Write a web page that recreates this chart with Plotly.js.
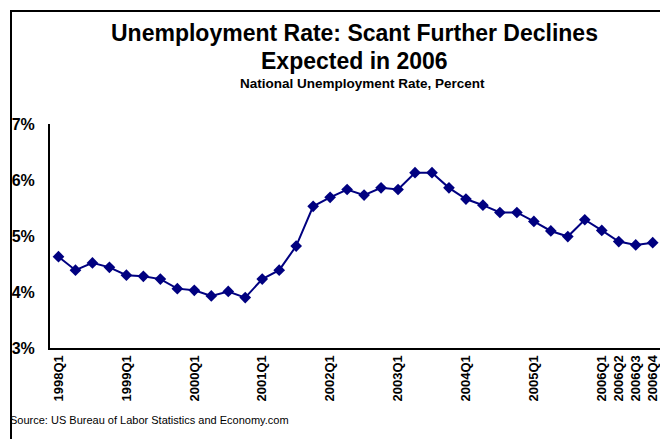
<!DOCTYPE html>
<html>
<head>
<meta charset="utf-8">
<script src="https://cdn.plot.ly/plotly-3.0.1.min.js"></script>
<style>html,body{margin:0;padding:0;background:#fff;}#chart{width:660px;height:439px;}</style>
</head>
<body>
<div id="chart"></div>
<script>
const quarters = [
  "1998Q1","1998Q2","1998Q3","1998Q4",
  "1999Q1","1999Q2","1999Q3","1999Q4",
  "2000Q1","2000Q2","2000Q3","2000Q4",
  "2001Q1","2001Q2","2001Q3","2001Q4",
  "2002Q1","2002Q2","2002Q3","2002Q4",
  "2003Q1","2003Q2","2003Q3","2003Q4",
  "2004Q1","2004Q2","2004Q3","2004Q4",
  "2005Q1","2005Q2","2005Q3","2005Q4",
  "2006Q1","2006Q2","2006Q3","2006Q4"
];
const unemploymentRate = [
  4.63, 4.39, 4.52, 4.44,
  4.30, 4.28, 4.23, 4.06,
  4.03, 3.93, 4.01, 3.90,
  4.23, 4.39, 4.82, 5.53,
  5.69, 5.83, 5.73, 5.86,
  5.83, 6.13, 6.13, 5.86,
  5.66, 5.55, 5.42, 5.42,
  5.26, 5.09, 4.99, 5.29,
  5.10, 4.90, 4.84, 4.88
];
const shownTicks = ["1998Q1","1999Q1","2000Q1","2001Q1","2002Q1","2003Q1","2004Q1","2005Q1","2006Q1","2006Q2","2006Q3","2006Q4"];
const yTicks = [3, 4, 5, 6, 7];

const titleLine1 = "Unemployment Rate: Scant Further Declines";
const titleLine2 = "Expected in 2006";
const subtitleText = "National Unemployment Rate, Percent";
const sourceText = "Source: US Bureau of Labor Statistics and Economy.com";

const FONT = "Liberation Sans, Arial, sans-serif";
const L = 50, R = 0, T = 124, B = 91, W = 660, H = 439;
const pw = W - L - R, ph = H - T - B;
const px2x = p => (p - L) / pw;
const py2y = p => (H - B - p) / ph;

const trace = {
  type: "scatter",
  mode: "lines+markers",
  x: quarters,
  y: unemploymentRate,
  line: {color: "#000080", width: 2},
  marker: {symbol: "diamond", size: 9, color: "#000080"},
  hoverinfo: "x+y"
};

function textAnn(text, cx, cy, size, anchor) {
  return {
    text: text,
    xref: "paper", yref: "paper",
    x: px2x(cx), y: py2y(cy),
    xanchor: anchor || "center", yanchor: "middle",
    showarrow: false,
    font: {family: FONT, size: size, color: "#000"}
  };
}

const layout = {
  width: W, height: H,
  margin: {l: L, r: R, t: T, b: B},
  paper_bgcolor: "#ffffff",
  plot_bgcolor: "#ffffff",
  showlegend: false,
  title: {text: ""},
  xaxis: {
    type: "category",
    categoryorder: "array",
    categoryarray: quarters,
    range: [-0.5, 35.43],
    tickmode: "array",
    tickvals: shownTicks,
    ticktext: shownTicks.map(t => "<b>" + t + "</b>"),
    tickangle: -90,
    tickfont: {family: FONT, size: 13, color: "#000"},
    ticks: "",
    showgrid: false,
    zeroline: false,
    showline: true,
    linecolor: "#000",
    linewidth: 2,
    fixedrange: true
  },
  yaxis: {
    range: [3, 7],
    tickmode: "array",
    tickvals: yTicks,
    ticktext: yTicks.map(v => "<b>" + v + "%</b>"),
    tickfont: {family: FONT, size: 16, color: "#000"},
    ticks: "",
    ticklabelstandoff: 10,
    showgrid: false,
    zeroline: false,
    showline: true,
    linecolor: "#000",
    linewidth: 2,
    fixedrange: true
  },
  annotations: [
    textAnn("<b>" + titleLine1 + "</b>", 354, 33, 23),
    textAnn("<b>" + titleLine2 + "</b>", 354, 61, 23),
    textAnn("<b>" + subtitleText + "</b>", 363, 83, 13.5),
    textAnn(sourceText, 8, 420, 11, "left")
  ],
  shapes: [
    {type: "line", xref: "paper", yref: "paper",
     x0: px2x(11), x1: px2x(700), y0: py2y(11), y1: py2y(11),
     line: {color: "#000", width: 2}},
    {type: "line", xref: "paper", yref: "paper",
     x0: px2x(11), x1: px2x(11), y0: py2y(10), y1: py2y(460),
     line: {color: "#000", width: 2}}
  ]
};

Plotly.newPlot("chart", [trace], layout, {displayModeBar: false, staticPlot: true});
</script>
</body>
</html>
